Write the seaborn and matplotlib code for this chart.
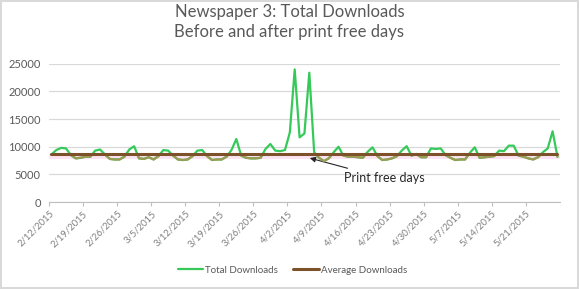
import numpy as np
import pandas as pd
import matplotlib
matplotlib.use("Agg")
import matplotlib.pyplot as plt
import seaborn as sns
from matplotlib.patches import Rectangle

# ---- data ----
start_date = "2015-02-12"
total_downloads = [
    8600, 9400, 9800, 9700, 8500, 7900, 8000, 8200, 8200, 9300,
    9500, 8600, 7800, 7700, 7700, 8200, 9500, 10100, 7900, 7800,
    8100, 7700, 8300, 9400, 9300, 8400, 7700, 7600, 7700, 8300,
    9300, 9400, 8300, 7600, 7700, 7700, 8200, 9400, 11400, 8400,
    8000, 7900, 7900, 8000, 9600, 10500, 9300, 9200, 9400, 12600,
    24000, 11700, 12400, 23400, 9000, 8000, 7400, 7900, 9000, 10000,
    8400, 8200, 8200, 8100, 8000, 9100, 9900, 8300, 7600, 7700,
    7900, 8300, 9300, 10100, 8400, 8700, 8100, 8100, 9700, 9600,
    9700, 8500, 8000, 7600, 7700, 7700, 8900, 9900, 8000, 8100,
    8200, 8300, 9300, 9200, 10200, 10200, 8400, 8200, 7900, 7700,
    8100, 9000, 9700, 12800, 8200,
]
average_downloads = 8620
band_low = 7800
title = "Newspaper 3: Total Downloads\nBefore and after print free days"
annotation = "Print free days"
series_names = ["Total Downloads", "Average Downloads"]
y_ticks = [0, 5000, 10000, 15000, 20000, 25000]

dates = pd.date_range(start_date, periods=len(total_downloads), freq="D")
idx = np.arange(len(total_downloads))
df = pd.DataFrame({"idx": idx, "total": total_downloads,
                   "avg": [average_downloads] * len(total_downloads)})

# ---- style ----
sns.set_style("white")
plt.rcParams["font.family"] = ["Lato", "DejaVu Sans"]
gray = "#595959"
green = "#36c95a"
olive = "#9c9a55"
brown = "#7d5129"

fig = plt.figure(figsize=(5.79, 2.89), dpi=100)
fig.patch.set_edgecolor("#d9d9d9")
fig.patch.set_linewidth(1.5)
ax = fig.add_axes([0.0846, 0.301, 0.967 - 0.0846, 0.779 - 0.301])

ax.axhspan(band_low, average_downloads, color="#fde4f2", zorder=1, lw=0)

sns.lineplot(data=df, x="idx", y="total", ax=ax, color=green, lw=1.6,
             zorder=3, label=series_names[0])
sns.lineplot(data=df, x="idx", y="total", ax=ax, color=olive, lw=1.6,
             zorder=3.5, legend=False)
under = ax.lines[-1]
clip = Rectangle((-1, 0), len(idx) + 2, average_downloads,
                 transform=ax.transData)
under.set_clip_path(clip)
sns.lineplot(data=df, x="idx", y="avg", ax=ax, color=brown, lw=2.2,
             zorder=4, label=series_names[1])

ax.set_xlim(-0.5, len(idx) - 0.5)
ax.set_ylim(0, 25000)
ax.set_yticks(y_ticks)
ax.set_yticklabels([str(v) for v in y_ticks], fontsize=8, color=gray)
tick_pos = np.arange(0, len(idx), 7)
ax.set_xticks(tick_pos - 0.5)
ax.set_xticklabels([f"{d.month}/{d.day}/{d.year}" for d in dates[tick_pos]],
                   rotation=45, ha="right", rotation_mode="anchor",
                   fontsize=6.8, color="#7f7f7f")
ax.tick_params(axis="x", length=3, color="#bfbfbf", pad=2, bottom=True)
ax.tick_params(axis="y", length=0, pad=6)
ax.grid(axis="y", color="#d9d9d9", lw=0.9)
ax.set_axisbelow(True)
for s in ["top", "right", "left"]:
    ax.spines[s].set_visible(False)
ax.spines["bottom"].set_color("#bfbfbf")
ax.set_xlabel("")
ax.set_ylabel("")

ax.annotate(annotation, xy=(53.1, 7950), xytext=(60.2, 4300),
            fontsize=9, color="#262626", va="center", ha="left",
            arrowprops=dict(arrowstyle="-|>", color="#262626", lw=0.8,
                            mutation_scale=8, shrinkA=2, shrinkB=0))

fig.suptitle(title, fontsize=12, color=gray, y=0.985, fontweight="normal",
             linespacing=1.25)

handles, labels = ax.get_legend_handles_labels()
ax.get_legend().remove()
fig.legend(handles, labels, loc="center", bbox_to_anchor=(0.505, 0.065),
           ncol=2, frameon=False, fontsize=7, labelcolor=gray,
           handlelength=2.6, handletextpad=0.2, columnspacing=1.6)

fig.savefig("out.png", dpi=100)
